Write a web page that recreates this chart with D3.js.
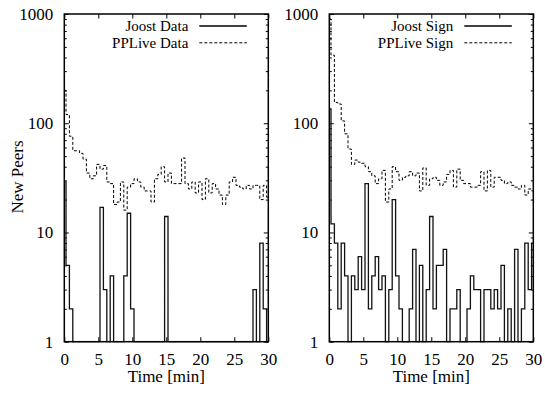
<!DOCTYPE html>
<html>
<head>
<meta charset="utf-8">
<script src="https://cdn.jsdelivr.net/npm/d3@7"></script>
<style>
  html, body { margin: 0; padding: 0; background: #fff; }
  svg { display: block; font-family: "Liberation Serif", "Times New Roman", serif; }
</style>
</head>
<body>
<svg id="chart" width="545" height="399"></svg>
<script>
// time of each sample (min), one every 30 s
const minutes = d3.range(0, 30.5, 0.5);
const xTicks = [0, 5, 10, 15, 20, 25, 30];
const yTicks = [1, 10, 100, 1000];

// new peers per 30 s bin (first value = burst at t=0)
const joostData = [29,
  5, 2, 1, 1, 1, 1, 1, 1, 1, 1,
  17, 3, 1, 4, 1, 1, 1, 4, 15, 2,
  1, 1, 1, 1, 1, 1, 1, 1, 1, 14,
  1, 1, 1, 1, 1, 1, 1, 1, 1, 1,
  1, 1, 1, 1, 1, 1, 1, 1, 1, 1,
  1, 1, 1, 1, 1, 3, 1, 8, 2, 1];
const ppliveData = [200,
  120, 76, 56, 56, 53, 47, 35, 31, 33, 42,
  38, 41, 29, 28, 18, 19, 29, 16, 26, 28,
  31, 29, 26, 24, 24, 19, 31, 34, 40, 29,
  35, 28, 28, 28, 48, 28, 25, 29, 23, 29,
  20, 31, 23, 28, 25, 22, 18, 22, 29, 32,
  27, 26, 25, 27, 25, 27, 27, 20, 27, 21];
const joostSign = [135,
  12, 8, 2, 8, 4, 1, 4, 3, 6, 3,
  28, 2, 4, 6, 3, 4, 1, 3, 20, 4,
  2, 1, 1, 2, 7, 1, 5, 1, 3, 14,
  2, 5, 5, 7, 1, 2, 2, 3, 1, 1,
  2, 4, 3, 3, 1, 3, 3, 2, 3, 2,
  5, 1, 2, 1, 7, 1, 2, 8, 3, 8];
const ppliveSign = [900,
  420, 155, 150, 105, 80, 58, 42, 46, 44, 43,
  40, 36, 33, 28, 31, 37, 19, 25, 40, 36,
  30, 32, 33, 36, 33, 35, 24, 39, 27, 31,
  32, 30, 27, 29, 34, 37, 26, 38, 30, 28,
  28, 26, 26, 27, 36, 24, 37, 26, 32, 32,
  30, 28, 29, 27, 26, 25, 27, 22, 25, 24];

const svg = d3.select('#chart');
const plotTop = 14, plotBottom = 341.7, plotW = 204;
const fontSize = 17;

const y = d3.scaleLog().domain([1, 1000]).range([plotBottom, plotTop]);
const minorTicks = [1, 10, 100].flatMap((d) => d3.range(2, 10).map((m) => m * d));

drawPanel(64.3, joostData, ppliveData, ['Joost Data', 'PPLive Data'], 'New Peers');
drawPanel(329.3, joostSign, ppliveSign, ['Joost Sign', 'PPLive Sign'], null);

function styleAxis(g) {
  g.select('.domain').remove();
  g.attr('font-family', '"Liberation Serif", serif').attr('font-size', fontSize);
  g.selectAll('line').attr('stroke', '#000');
  g.selectAll('text').attr('fill', '#000');
}

function drawPanel(left, joost, pplive, names, yLabel) {
  const x = d3.scaleLinear().domain([0, 30]).range([left, left + plotW]);
  const g = svg.append('g');

  // axes with inward ticks, mirrored on top and right
  g.append('g').attr('transform', `translate(0,${plotBottom})`)
    .call(d3.axisBottom(x).tickValues(xTicks).tickFormat(d3.format('d')).tickSize(-4.5).tickPadding(11))
    .call(styleAxis);
  g.append('g').attr('transform', `translate(0,${plotTop})`)
    .call(d3.axisTop(x).tickValues(xTicks).tickFormat('').tickSize(-4.5))
    .call(styleAxis);
  g.append('g').attr('transform', `translate(${left},0)`)
    .call(d3.axisLeft(y).tickValues(yTicks).tickFormat(d3.format('d')).tickSize(-4.5).tickPadding(11))
    .call(styleAxis);
  g.append('g').attr('transform', `translate(${left},0)`)
    .call(d3.axisLeft(y).tickValues(minorTicks).tickFormat('').tickSize(-2.5))
    .call(styleAxis);
  g.append('g').attr('transform', `translate(${left + plotW},0)`)
    .call(d3.axisRight(y).tickValues(yTicks).tickFormat('').tickSize(-4.5))
    .call(styleAxis);
  g.append('g').attr('transform', `translate(${left + plotW},0)`)
    .call(d3.axisRight(y).tickValues(minorTicks).tickFormat('').tickSize(-2.5))
    .call(styleAxis);

  // step lines (histogram steps)
  const line = d3.line()
    .x((d, i) => x(minutes[i]))
    .y((d) => y(d))
    .curve(d3.curveStep);

  g.append('path')
    .attr('d', line(pplive))
    .attr('fill', 'none')
    .attr('stroke', '#000')
    .attr('stroke-width', 1)
    .attr('stroke-dasharray', '3,2');

  g.append('path')
    .attr('d', line(joost))
    .attr('fill', 'none')
    .attr('stroke', '#111')
    .attr('stroke-width', 1.3);

  // frame
  g.append('rect')
    .attr('x', left).attr('y', plotTop)
    .attr('width', plotW).attr('height', plotBottom - plotTop)
    .attr('fill', 'none')
    .attr('stroke', '#000')
    .attr('stroke-width', 1.5);

  // legend
  const right = left + plotW;
  names.forEach((name, i) => {
    const ly = 26 + i * 16.8;
    g.append('text')
      .attr('x', right - 80).attr('y', ly).attr('dy', '0.35em')
      .attr('text-anchor', 'end')
      .attr('font-size', 15)
      .text(name);
    g.append('line')
      .attr('x1', right - 69).attr('x2', right - 21.5)
      .attr('y1', ly).attr('y2', ly)
      .attr('stroke', '#000')
      .attr('stroke-width', i === 0 ? 1.3 : 1)
      .attr('stroke-dasharray', i === 0 ? null : '3,2');
  });

  // axis titles
  g.append('text')
    .attr('x', left + plotW / 2).attr('y', 382)
    .attr('text-anchor', 'middle')
    .attr('font-size', fontSize)
    .text('Time [min]');

  if (yLabel) {
    g.append('text')
      .attr('transform', `translate(23,177) rotate(-90)`)
      .attr('text-anchor', 'middle')
      .attr('font-size', fontSize)
      .text(yLabel);
  }
}
</script>
</body>
</html>
